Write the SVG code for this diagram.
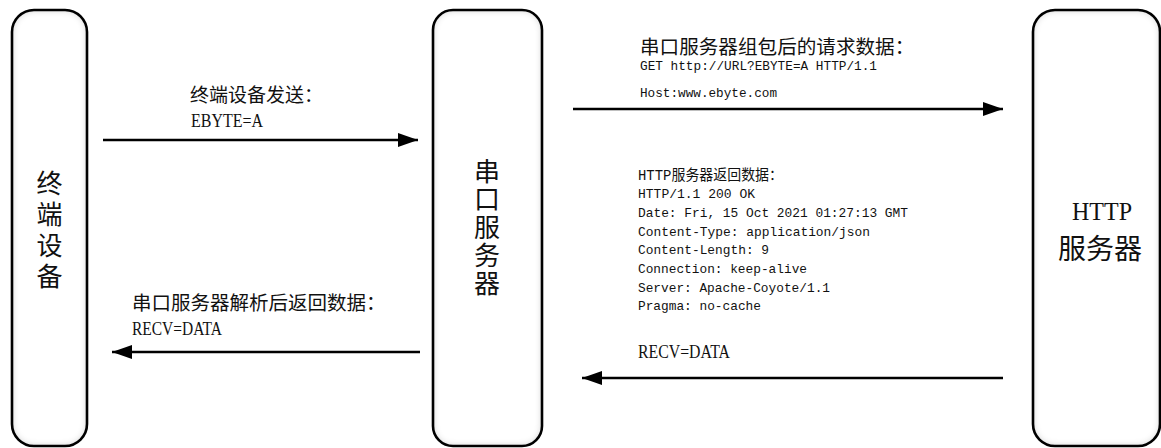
<svg xmlns="http://www.w3.org/2000/svg" width="1161" height="448" viewBox="0 0 1161 448">
<style>
.box{fill:none;stroke:#000;stroke-width:2.6}
.shade{fill:#fff;filter:url(#inner)}
.cjk{font-family:"Noto Sans CJK SC",sans-serif;fill:#111}
.vert{font-family:"Noto Sans CJK SC",sans-serif;fill:#111;writing-mode:vertical-rl;text-orientation:upright}
.lat{font-family:"Liberation Serif",serif;fill:#111}
.mono{font-family:"Liberation Mono","Noto Sans CJK SC",monospace;fill:#111;font-size:13px}
.conn{stroke:#000;stroke-width:2.6;fill:none;marker-end:url(#ah)}
</style>
<defs>
<filter id="inner" x="-10%" y="-10%" width="120%" height="120%">
<feFlood flood-color="#000" flood-opacity="0.45"/>
<feComposite in2="SourceAlpha" operator="out"/>
<feGaussianBlur stdDeviation="3.5"/>
<feComposite in2="SourceAlpha" operator="in" result="sh"/>
<feMerge><feMergeNode in="SourceGraphic"/><feMergeNode in="sh"/></feMerge>
</filter>
<marker id="ah" markerUnits="userSpaceOnUse" markerWidth="22" markerHeight="16" refX="20" refY="8" orient="auto">
<path d="M0,1 L20,8 L0,15 Z" fill="#000"/>
</marker>
</defs>

<g id="node-terminal">
<rect class="shade" x="12" y="10" width="75" height="436" rx="22"/>
<rect class="box" x="12" y="10" width="75" height="436" rx="22"/>
<text class="vert" font-size="26" letter-spacing="5" x="49.5" y="170">终端设备</text>
</g>

<g id="node-serial">
<rect class="shade" x="433" y="10" width="109" height="436" rx="20"/>
<rect class="box" x="433" y="10" width="109" height="436" rx="20"/>
<text class="vert" font-size="26" letter-spacing="2" x="487" y="158">串口服务器</text>
</g>

<g id="node-http">
<rect class="shade" x="1033" y="10" width="127" height="436" rx="22"/>
<rect class="box" x="1033" y="10" width="127" height="436" rx="22"/>
<text class="lat" font-size="26" x="1072" y="220" textLength="60" lengthAdjust="spacingAndGlyphs">HTTP</text>
<text class="cjk" font-size="28" x="1100" y="259" text-anchor="middle">服务器</text>
</g>

<g id="connectors">
<line class="conn" x1="103" y1="140" x2="418" y2="140"/>
<line class="conn" x1="573" y1="109" x2="1003" y2="109"/>
<line class="conn" x1="420" y1="352" x2="112" y2="352"/>
<line class="conn" x1="1003" y1="378" x2="582" y2="378"/>
</g>

<g id="labels">
<text class="cjk" font-size="19" x="190" y="102">终端设备发送：</text>
<text class="lat" font-size="19" x="191" y="127" textLength="72" lengthAdjust="spacingAndGlyphs">EBYTE=A</text>

<text class="cjk" font-size="19.5" x="132" y="310">串口服务器解析后返回数据：</text>
<text class="lat" font-size="19" x="132" y="335" textLength="90" lengthAdjust="spacingAndGlyphs">RECV=DATA</text>

<text class="cjk" font-size="19.6" x="640" y="54">串口服务器组包后的请求数据：</text>
<text class="mono" x="640" y="70" textLength="237" lengthAdjust="spacingAndGlyphs">GET http://URL?EBYTE=A HTTP/1.1</text>
<text class="mono" x="640" y="97" textLength="137" lengthAdjust="spacingAndGlyphs">Host:www.ebyte.com</text>

<text class="mono" style="font-size:14.5px" x="638" y="180" textLength="145" lengthAdjust="spacingAndGlyphs">HTTP服务器返回数据：</text>
<text class="mono" x="638" y="198" textLength="117" lengthAdjust="spacingAndGlyphs">HTTP/1.1 200 OK</text>
<text class="mono" x="638" y="217" textLength="270" lengthAdjust="spacingAndGlyphs">Date: Fri, 15 Oct 2021 01:27:13 GMT</text>
<text class="mono" x="638" y="236" textLength="232" lengthAdjust="spacingAndGlyphs">Content-Type: application/json</text>
<text class="mono" x="638" y="254" textLength="131" lengthAdjust="spacingAndGlyphs">Content-Length: 9</text>
<text class="mono" x="638" y="273" textLength="169" lengthAdjust="spacingAndGlyphs">Connection: keep-alive</text>
<text class="mono" x="638" y="292" textLength="192" lengthAdjust="spacingAndGlyphs">Server: Apache-Coyote/1.1</text>
<text class="mono" x="638" y="310" textLength="123" lengthAdjust="spacingAndGlyphs">Pragma: no-cache</text>

<text class="lat" font-size="19" x="638" y="358" textLength="92" lengthAdjust="spacingAndGlyphs">RECV=DATA</text>
</g>
</svg>
